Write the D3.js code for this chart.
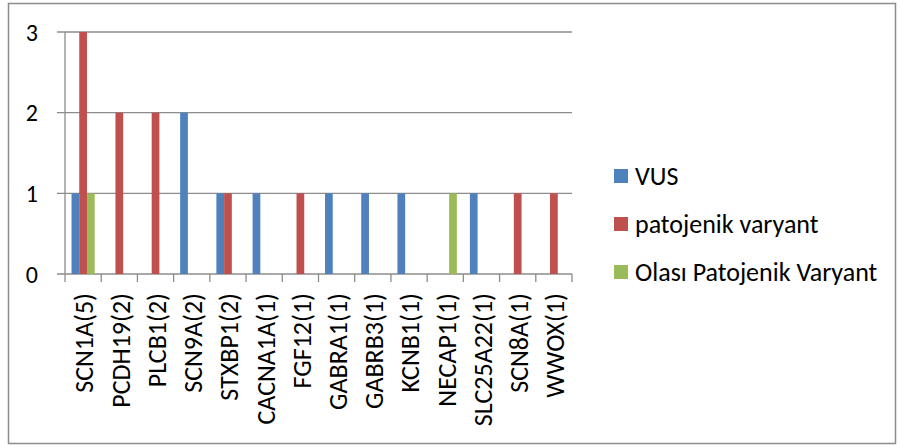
<!DOCTYPE html>
<html><head><meta charset="utf-8">
<script src="https://cdn.jsdelivr.net/npm/d3@7"></script>
<style>body{margin:0;background:#fff}svg{display:block}text{font-family:Carlito,Calibri,"Open Sans",sans-serif;fill:#000}</style>
</head><body><svg id="c" width="904" height="447"></svg>
<script>
const categories = ["SCN1A(5)","PCDH19(2)","PLCB1(2)","SCN9A(2)","STXBP1(2)","CACNA1A(1)","FGF12(1)","GABRA1(1)","GABRB3(1)","KCNB1(1)","NECAP1(1)","SLC25A22(1)","SCN8A(1)","WWOX(1)"];
const seriesNames = ["VUS","patojenik varyant","Olası Patojenik Varyant"];
const vus      = [1,0,0,2,1,1,0,1,1,1,0,1,0,0];
const patojenik= [3,2,2,0,1,0,1,0,0,0,0,0,1,1];
const olasi    = [1,0,0,0,0,0,0,0,0,0,1,0,0,0];
const yTicks = [0,1,2,3];
const colors = ["#4F81BD","#C0504D","#9BBB59"];
const seriesValues = [vus, patojenik, olasi];

const svg = d3.select("#c");
svg.append("rect").attr("x",8.5).attr("y",3.5).attr("width",887).attr("height",440)
  .attr("fill","#fff").attr("stroke","#8c8c8c").attr("stroke-width",1.5);

const x0 = d3.scaleBand().domain(categories).range([65,572]).padding(0);
const groupW = x0.bandwidth()*0.64;
const x1 = d3.scaleBand().domain(seriesNames).range([0,groupW]).padding(0);
const y = d3.scaleLinear().domain([0,3]).range([274,32]);

svg.append("g").selectAll("line").data(yTicks).join("line")
  .attr("x1",57).attr("x2",572).attr("y1",d=>y(d)).attr("y2",d=>y(d))
  .attr("stroke","#8c8c8c").attr("stroke-width",1.3);

const off = (x0.bandwidth()-groupW)/2;
seriesNames.forEach((s,si)=>{
  svg.append("g").selectAll("rect").data(categories.map((c,i)=>({c,v:seriesValues[si][i]})).filter(d=>d.v>0))
    .join("rect")
    .attr("x",d=>x0(d.c)+off+x1(s))
    .attr("y",d=>y(d.v))
    .attr("width",x1.bandwidth())
    .attr("height",d=>y(0)-y(d.v))
    .attr("fill",colors[si]);
});

svg.append("line").attr("x1",65).attr("x2",65).attr("y1",32).attr("y2",274)
  .attr("stroke","#8c8c8c").attr("stroke-width",1.3);
const xt = d3.range(categories.length+1).map(i=>65+i*x0.bandwidth());
svg.append("g").selectAll("line").data(xt).join("line")
  .attr("x1",d=>d).attr("x2",d=>d).attr("y1",274).attr("y2",282)
  .attr("stroke","#8c8c8c").attr("stroke-width",1.3);

svg.append("g").selectAll("text").data(yTicks).join("text")
  .attr("x",38).attr("y",d=>y(d)).attr("dy","0.36em").attr("text-anchor","end")
  .style("font-size","24px").text(d=>d);

svg.append("g").selectAll("text").data(categories).join("text")
  .attr("transform",d=>`translate(${x0(d)+x0.bandwidth()/2+1},293) rotate(-90)`)
  .attr("text-anchor","end").attr("dy","0.36em")
  .style("font-size","26px").text(d=>d);

const lg = svg.append("g").selectAll("g").data(seriesNames).join("g")
  .attr("transform",(d,i)=>`translate(614,${176+i*48})`);
lg.append("rect").attr("x",0).attr("y",-7).attr("width",14).attr("height",14).attr("fill",(d,i)=>colors[i]);
lg.append("text").attr("x",21).attr("dy","0.36em").style("font-size","26px").text(d=>d);
</script></body></html>
